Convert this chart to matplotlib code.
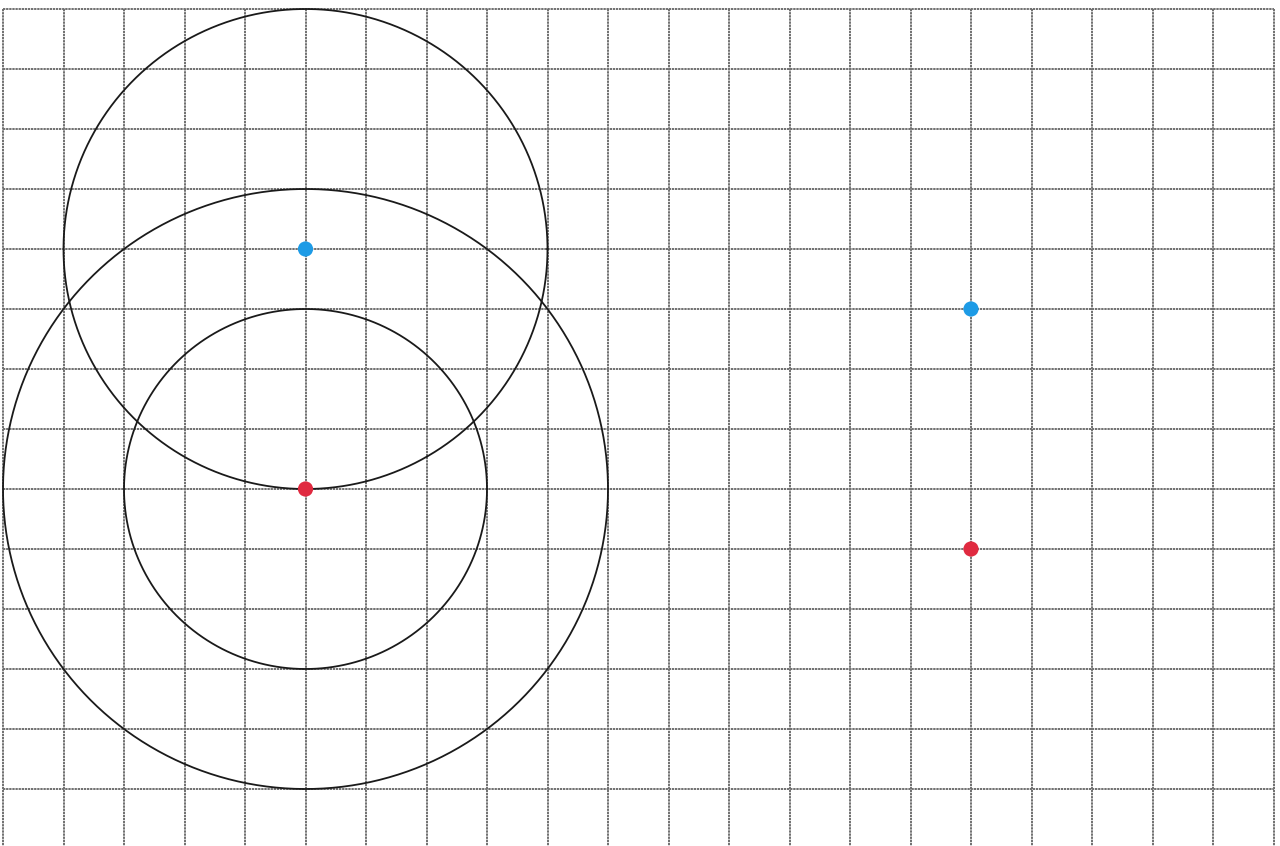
import matplotlib
matplotlib.use("Agg")
import matplotlib.pyplot as plt
import numpy as np

# grid paper: 21 x 13 cells, y counted downward from the top line
grid_cols = 22
grid_rows = 14

# points (cell coordinates)
blue_x = [5, 16]
blue_y = [4, 5]
red_x = [5, 16]
red_y = [8, 9]

# circles: centre x, centre y, radius (cells)
circle_cx = [5, 5, 5]
circle_cy = [4, 8, 8]
circle_r = [4, 3, 5]

fig = plt.figure(figsize=(12.8, 8.46), dpi=100)
ax = fig.add_axes([0, 0, 1, 1])

ymax = (846 - 9) / 60.0
grid_style = dict(color="#707070", linewidth=1.4, linestyle=(0, (1.2, 0.4)), zorder=1)
ax.vlines(np.arange(grid_cols), 0, ymax + 1, **grid_style)
ax.hlines(np.arange(grid_rows), 0, grid_cols - 1, **grid_style)

t = np.linspace(0, 2 * np.pi, 400)
for cx, cy, r in zip(circle_cx, circle_cy, circle_r):
    ax.plot(cx + r * np.cos(t), cy + r * np.sin(t), color="#1a1a1a", linewidth=1.3, zorder=2)

ax.scatter(blue_x, blue_y, s=120, color="#1d9be6", zorder=3, edgecolors="none")
ax.scatter(red_x, red_y, s=120, color="#e02a40", zorder=3, edgecolors="none")

ax.set_xlim(-3 / 60.5, (1280 - 3) / 60.5)
ax.set_ylim(ymax, -9 / 60.0)
ax.axis("off")

fig.savefig("out.png", dpi=100, facecolor="white")
